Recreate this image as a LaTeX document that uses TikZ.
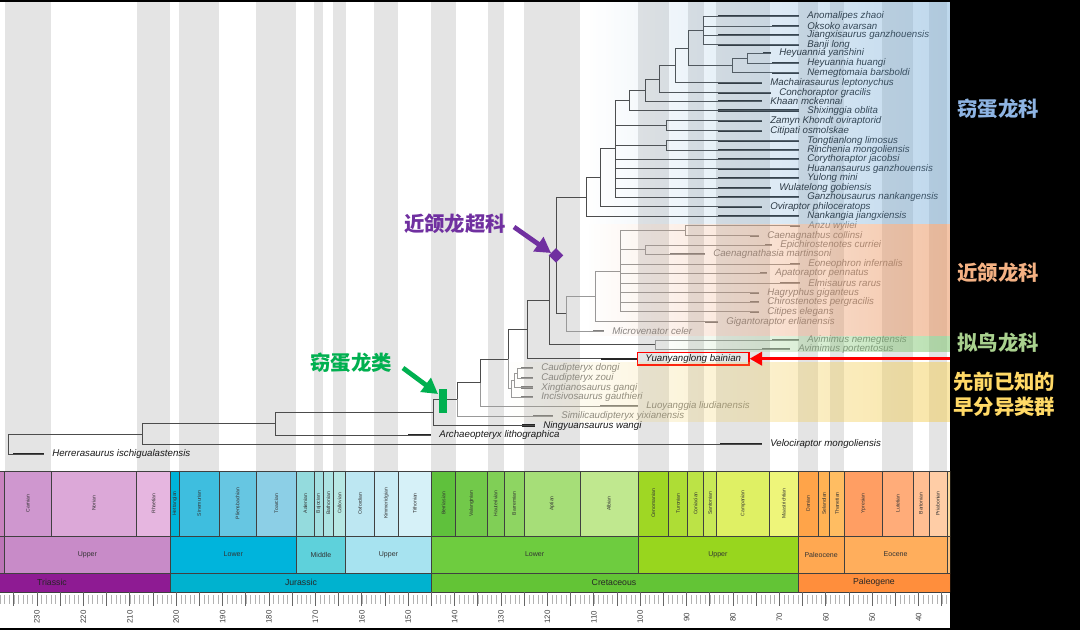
\documentclass[tikz,border=0pt]{standalone}
\usepackage{fontspec}
\setmainfont{Liberation Sans}
\newfontfamily\cjk{Noto Sans CJK SC}
\usetikzlibrary{arrows.meta,fadings,shapes.geometric}

\definecolor{bandgray}{HTML}{E4E4E4}
\definecolor{ovblue}{HTML}{6FA8D6}
\definecolor{caorange}{HTML}{E98A4F}
\definecolor{avgreen}{HTML}{72C162}
\definecolor{eayellow}{HTML}{F3CD51}
\definecolor{labblue}{HTML}{8EB4E3}
\definecolor{laborange}{HTML}{F4B183}
\definecolor{labgreen}{HTML}{A9D18E}
\definecolor{labyellow}{HTML}{FFD966}
\definecolor{supurple}{HTML}{7030A0}
\definecolor{ovgreen}{HTML}{00B050}

\tikzfading[name=cladefade, left color=transparent!100, middle color=transparent!35, right color=transparent!0]

\tikzset{
  br/.style={draw=black!70, line width=0.5pt},
  brlt/.style={draw=black!40, line width=0.5pt},
  rngdk/.style={draw=black!85, line width=1.6pt},
  rnglt/.style={draw=black!50, line width=1.6pt},
  taxon/.style={anchor=west, inner sep=0pt, font=\fontsize{6.9}{8}\selectfont\itshape},
  txtdk/.style={text=black!90},
  txtlt/.style={text=black!48},
  clade/.style={font=\cjk\bfseries\fontsize{14.5}{16}\selectfont, inner sep=0pt},
  stagelab/.style={rotate=90, inner sep=0pt, font=\fontsize{3.6}{4}\selectfont, text=black!80},
  epochlab/.style={inner sep=0pt, font=\fontsize{5}{6}\selectfont, text=black!80},
  periodlab/.style={inner sep=0pt, font=\fontsize{6.2}{7}\selectfont, text=black!85},
  agelab/.style={rotate=90, inner sep=0pt, font=\fontsize{5.6}{6}\selectfont, text=black!75},
  bigarrow/.style={line width=3.4pt, -{Triangle[length=11pt,width=12pt]}},
}

\begin{document}
\begin{tikzpicture}[x=0.025cm, y=-0.025cm]
\useasboundingbox (0,0) rectangle (1080,630);
\fill[black] (0,0) rectangle (1080,630);
\fill[white] (0,2) rectangle (950,628);

\begin{scope}
\clip (0,2) rectangle (950,628);
% alternating stage bands behind the tree
\foreach \a/\b in {237/227, 208.5/201.3, 199.3/190.8, 182.7/174.1, 170.3/168.3, 166.1/163.5,
  157.3/152.1, 145/139.8, 132.9/129.4, 125/113, 100.5/93.9, 89.8/86.3, 83.6/72.1,
  66/61.6, 59.2/56, 47.8/41.2, 37.8/33.9}
  \fill[bandgray] (1104.2-4.64*\a,2) rectangle (1104.2-4.64*\b,471);

% stages
\foreach \a/\b/\c/\s in {242/237/C983BF/, 237/227/CF97CF/Carnian, 227/208.5/DCA8D8/Norian,
  208.5/201.3/E6B6E0/Rhaetian, 201.3/199.3/00B5D9/Hettangian, 199.3/190.8/3EBEDF/Sinemurian,
  190.8/182.7/66C6E2/Pliensbachian, 182.7/174.1/8CCFE6/Toarcian, 174.1/170.3/94DBDD/Aalenian,
  170.3/168.3/A2DFE0/Bajocian, 168.3/166.1/ADE4E3/Bathonian, 166.1/163.5/B8E8E4/Callovian,
  163.5/157.3/BDE7F2/Oxfordian, 157.3/152.1/C9ECF5/Kimmeridgian, 152.1/145/D6F1F8/Tithonian,
  145/139.8/5FC13C/Berriasian, 139.8/132.9/72C94A/Valanginian, 132.9/129.4/80CF56/Hauterivian,
  129.4/125/8ED562/Barremian, 125/113/A6DE78/Aptian, 113/100.5/C0E88F/Albian,
  100.5/93.9/9FD724/Cenomanian, 93.9/89.8/AEDD35/Turonian, 89.8/86.3/BCE346/Coniacian,
  86.3/83.6/C9E957/Santonian, 83.6/72.1/DFF064/Campanian, 72.1/66/EEF57A/Maastrichtian,
  66/61.6/FFA449/Danian, 61.6/59.2/FFB253/Selandian, 59.2/56/FFBD62/Thanetian,
  56/47.8/FF9E63/Ypresian, 47.8/41.2/FFAC79/Lutetian, 41.2/37.8/FFBE92/Bartonian,
  37.8/33.9/FFCDA6/Priabonian, 33.9/28.1/FED99A/}{
  \pgfmathsetmacro\xm{(max(1104.2-4.64*\a,0)+min(1104.2-4.64*\b,950))/2}
  \definecolor{stg}{HTML}{\c}
  \filldraw[fill=stg, draw=black!75, line width=0.4pt] (1104.2-4.64*\a,471) rectangle (1104.2-4.64*\b,536);
  \node[stagelab] at (\xm,503.5) {\s};
}
% epochs
\foreach \a/\b/\c/\s in {247.2/237/BC75B7/, 237/201.3/C88BC8/Upper, 201.3/174.1/00B4DC/Lower,
  174.1/163.5/5ED1DB/Middle, 163.5/145/A7E3F0/Upper, 145/100.5/6ECC3F/Lower,
  100.5/66/98D61E/Upper, 66/56/FFA851/Paleocene, 56/33.9/FFAE5C/Eocene, 33.9/23/FEC07A/}{
  \pgfmathsetmacro\xm{(max(1104.2-4.64*\a,0)+min(1104.2-4.64*\b,950))/2}
  \definecolor{epc}{HTML}{\c}
  \filldraw[fill=epc, draw=black!75, line width=0.4pt] (1104.2-4.64*\a,536) rectangle (1104.2-4.64*\b,573);
  \node[epochlab] at (\xm,554.5) {\s};
}
% periods
\foreach \a/\b/\c/\s/\xm in {252/201.3/8E1B93/Triassic/52, 201.3/145/00B2CF/Jurassic/301,
  145/66/63C436/Cretaceous/614, 66/23/FF8E3C/Paleogene/874}{
  \definecolor{prc}{HTML}{\c}
  \filldraw[fill=prc, draw=black!75, line width=0.4pt] (1104.2-4.64*\a,573) rectangle (1104.2-4.64*\b,592);
  \node[periodlab] at (\xm,582.5) {\s};
}
% age ruler
\foreach \t in {23,...,240}
  \draw[black!30, line width=0.4pt] (1104.2-4.64*\t,595) -- (1104.2-4.64*\t,604);
\foreach \t in {25,30,...,240}
  \draw[black!60, line width=0.5pt] (1104.2-4.64*\t,592) -- (1104.2-4.64*\t,606);
\foreach \t in {40,50,...,230}
  \node[agelab] at (1104.2-4.64*\t,617) {\t};
\end{scope}

% tree: internal nodes
\foreach \nm/\xe/\ye in {root/8/443.9, n142/142/433.9, n275/275/423.7, n433/433/412.4,
  n457/457/399.3, n480/480/382.5, n508/508/359, ncaud/511/388.7, ncb/514/380.3, ncc/517/373.2,
  n527/527/329.3, n549/549/300, n655/655/344.7, n556/556/255.3, n567/566/313.7, n595/595/296.5,
  n620/620/271.2, n685/685/230.7, n645c/645/249.7, n586/586/196.9, n600/600/177.7,
  n615/615/148.8, n666a/666/125.7, n666b/666/145.4, n629/629/100.4, n645/645/90.2,
  n659/659/79, n675/675/65.3, n688/688/47.9, n703/703/30.4, n732/732/65.5, n747/747/58.3}
  \coordinate (\nm) at (\xe,\ye);

% tree: tips (name/end/y/range start/shade/label)
\foreach \nm/\xe/\ye/\xb/\st/\lb in {
  anom/799/16/718/dk/Anomalipes zhaoi, oksk/799/26/772/dk/Oksoko avarsan,
  jiang/799/35.3/718/dk/Jiangxisaurus ganzhouensis, banji/799/44.7/718/dk/Banji long,
  hyan/771/53.3/763/dk/Heyuannia yanshini, hhua/799/63.3/772/dk/Heyuannia huangi,
  nemeg/799/72.7/772/dk/Nemegtomaia barsboldi, machai/762/82.7/718/dk/Machairasaurus leptonychus,
  conch/771/92.7/718/dk/Conchoraptor gracilis, khaan/762/101.2/718/dk/Khaan mckennai,
  shix/799/110.5/718/dk/Shixinggia oblita, zamyn/762/120.7/718/dk/Zamyn Khondt oviraptorid,
  citi/762/130.7/718/dk/Citipati osmolskae, tong/799/140.7/718/dk/Tongtianlong limosus,
  rinch/799/150/718/dk/Rinchenia mongoliensis, coryt/799/159.3/718/dk/Corythoraptor jacobsi,
  huan/799/168.7/718/dk/Huanansaurus ganzhouensis, yulong/799/178.3/718/dk/Yulong mini,
  wulat/771/188/718/dk/Wulatelong gobiensis, ganz/799/197.3/718/dk/Ganzhousaurus nankangensis,
  ovir/762/206.7/718/dk/Oviraptor philoceratops, nank/799/216/718/dk/Nankangia jiangxiensis,
  anzu/800/225.7/790/lt/Anzu wyliei, caen/759/235.7/750/lt/Caenagnathus collinsi,
  epich/772/245/765/lt/Epichirostenotes curriei, casia/705/254.3/670/lt/Caenagnathasia martinsoni,
  eoneo/800/264.3/790/lt/Eoneophron infernalis, apato/767/273.3/760/lt/Apatoraptor pennatus,
  elmi/800/283.3/780/lt/Elmisaurus rarus, hagry/759/292.7/750/lt/Hagryphus giganteus,
  chiro/759/302.3/750/lt/Chirostenotes pergracilis, citip/759/311.7/750/lt/Citipes elegans,
  gigan/718/321.7/705/lt/Gigantoraptor erlianensis, micro/604/331/593/lt/Microvenator celer,
  avnem/799/340/772/lt/Avimimus nemegtensis, avpor/790/349.3/762/lt/Avimimus portentosus,
  cdong/533/368.3/521/lt/Caudipteryx dongi, czoui/533/378/521/lt/Caudipteryx zoui,
  xing/533/387.5/521/lt/Xingtianosaurus ganqi, incis/533/397/521/lt/Incisivosaurus gauthieri,
  luoy/638/406/600/lt/Luoyanggia liudianensis, simil/553/416/533/lt/Similicaudipteryx yixianensis,
  ningy/535/425.5/522/dk/Ningyuansaurus wangi, archa/431/435/408/dk/Archaeopteryx lithographica,
  veloc/762/444/720/dk/Velociraptor mongoliensis, herre/44/454/13/dk/Herrerasaurus ischigualastensis}{
  \coordinate (\nm) at (\xe,\ye);
  \draw[rng\st] (\xb,\ye) -- (\nm);
  \node[taxon, txt\st] (\nm-l) at (\xe+8,\ye) {\lb};
}

\foreach \p/\c in {root/herre, root/n142, n142/n275, n142/veloc, n275/n433, n275/archa,
  n433/n457, n433/ningy, n457/n480, n480/n508, n508/n527, n527/n549, n549/n556, n549/n655,
  n556/n586, n556/n567, n586/n600, n586/nank, n600/n615, n600/ovir, n615/n629, n615/n666a,
  n615/n666b, n615/coryt, n615/huan, n615/yulong, n615/wulat, n615/ganz, n666a/zamyn,
  n666a/citi, n666b/tong, n666b/rinch, n629/n645, n629/shix, n645/n659, n645/khaan,
  n659/n675, n659/conch, n675/n688, n675/machai, n688/n703, n688/n732, n703/anom,
  n703/oksk, n703/jiang, n703/banji, n732/n747, n732/nemeg, n747/hyan, n747/hhua}
  \draw[br] (\p) |- (\c);
\foreach \p/\c in {n457/simil, n480/luoy, n508/ncaud, ncaud/ncb, ncaud/incis, ncb/ncc,
  ncb/xing, ncc/cdong, ncc/czoui, n655/avnem, n655/avpor, n567/n595, n567/micro,
  n595/n620, n595/gigan, n620/n685, n620/n645c, n620/eoneo, n620/apato, n620/elmi,
  n620/hagry, n620/chiro, n620/citip, n685/anzu, n685/caen, n645c/epich, n645c/casia}
  \draw[brlt] (\p) |- (\c);

% the new taxon
\node[taxon, inner xsep=5.5pt, minimum height=9pt, draw=red, line width=1pt, txtdk] (yuan) at (637,358.7) {Yuanyanglong bainian};
\draw[br] (n527) |- (yuan.west);
\draw[rngdk] (601,358.7) -- (yuan.west);

% clade shading
\fill[ovblue, fill opacity=0.45, path fading=cladefade] (588,2) rectangle (950,224);
\fill[caorange, fill opacity=0.5, path fading=cladefade] (588,224) rectangle (950,336);
\fill[avgreen, fill opacity=0.5, path fading=cladefade] (655,336) rectangle (950,352);
\fill[eayellow, fill opacity=0.5, path fading=cladefade] (505,362) rectangle (950,422);

% markers and arrows
\node[diamond, fill=supurple, minimum size=10.5pt, inner sep=0pt] (diam) at (n556) {};
\node[fill=ovgreen, minimum width=5pt, minimum height=17pt, inner sep=0pt] (gbar) at (443,401) {};
\coordinate (ptail) at (514,227);
\coordinate (ptip) at (551,253);
\draw[bigarrow, supurple] (ptail) -- (ptip);
\coordinate (gtail) at (403,368);
\coordinate (gtip) at (438,394);
\draw[bigarrow, ovgreen] (gtail) -- (gtip);
\coordinate (rtail) at (950,358.7);
\draw[red, line width=2.2pt, -{Triangle[length=9pt,width=9.5pt]}] (rtail) -- (yuan.east);

\node[clade, text=supurple] (superlab) at (455,224) {近颌龙超科};
\node[clade, text=ovgreen] (ovlab) at (351,363) {窃蛋龙类};

% clade names on the right
\node[clade, anchor=west, text=labblue] (ovidae) at (957,108.7) {窃蛋龙科};
\node[clade, anchor=west, text=laborange] (caenidae) at (957,273) {近颌龙科};
\node[clade, anchor=west, text=labgreen] (avidae) at (957,343) {拟鸟龙科};
\node[clade, anchor=west, text=labyellow] (early1) at (953,382) {先前已知的};
\node[clade, anchor=west, text=labyellow] (early2) at (953,407) {早分异类群};
\end{tikzpicture}
\end{document}
